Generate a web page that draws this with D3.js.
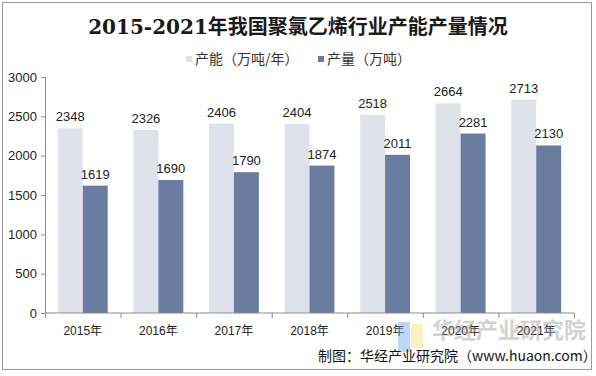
<!DOCTYPE html>
<html>
<head>
<meta charset="utf-8">
<script src="https://cdn.jsdelivr.net/npm/d3@7"></script>
<style>
	body { margin: 0; background: #fff; }
	#chart { width: 596px; height: 376px; }
</style>
</head>
<body>
<div id="chart"></div>
<script>
var years = ["2015年", "2016年", "2017年", "2018年", "2019年", "2020年", "2021年"];
var capacity = [2348, 2326, 2406, 2404, 2518, 2664, 2713];
var output = [1619, 1690, 1790, 1874, 2011, 2281, 2130];
var seriesNames = ["产能（万吨/年）", "产量（万吨）"];
var yTicks = [0, 500, 1000, 1500, 2000, 2500, 3000];

var width = 596,
	height = 376,
	margin = {top: 77, right: 22, bottom: 63, left: 45},
	colors = ["#e0e2eb", "#6a7ca0"],
	font = "'Liberation Sans', Arial, 'Noto Sans CJK SC', sans-serif";

var svg = d3.select("#chart")
	.append("svg")
	.attr("width", width)
	.attr("height", height)
	.style("font-family", font);

// frame
svg.append("rect")
	.attr("x", 2.5).attr("y", 2.5)
	.attr("width", 589).attr("height", 367)
	.attr("fill", "#fff")
	.attr("stroke", "#9a9a9a");

svg.append("text")
	.attr("x", 298).attr("y", 34)
	.attr("text-anchor", "middle")
	.style("font-family", "'DejaVu Serif', 'Liberation Serif', 'Noto Sans CJK SC', serif")
	.style("font-size", "20px")
	.style("font-weight", "bold")
	.attr("fill", "#1a1a1a")
	.text("2015-2021年我国聚氯乙烯行业产能产量情况");

// legend
var legendX = [186, 318];
seriesNames.forEach(function (name, i) {
	var g = svg.append("g").attr("transform", "translate(" + legendX[i] + ",59)");
	g.append("rect")
		.attr("x", 0).attr("y", -3)
		.attr("width", 6).attr("height", 6)
		.attr("fill", colors[i]);
	g.append("text")
		.attr("x", 9).attr("y", 5)
		.style("font-size", "14px")
		.style("font-family", "'Noto Sans CJK SC', sans-serif")
		.attr("fill", "#333")
		.text(name);
});

var x0 = d3.scaleBand()
	.domain(years)
	.range([margin.left, margin.left + 529])
	.paddingInner(0.34)
	.paddingOuter(0.17);

var x1 = d3.scaleBand()
	.domain([0, 1])
	.range([0, x0.bandwidth()]);

var y = d3.scaleLinear()
	.domain([0, 3000])
	.range([313, 77]);

// y axis
var yAxis = svg.append("g")
	.attr("transform", "translate(" + margin.left + ",0)")
	.call(d3.axisLeft(y).tickValues(yTicks).tickFormat(d3.format("d")).tickSize(4).tickPadding(4));
yAxis.selectAll("text")
	.style("font-size", "13px")
	.style("font-family", font)
	.attr("fill", "#222");
yAxis.selectAll("line, path").attr("stroke", "#8c8c8c");

var step = x0.step();
var groups = svg.append("g")
	.selectAll("g")
	.data(years)
	.join("g")
	.attr("transform", function (d) { return "translate(" + x0(d) + ",0)"; });

var series = [capacity, output];
series.forEach(function (vals, s) {
	groups.append("rect")
		.attr("x", x1(s))
		.attr("width", x1.bandwidth())
		.attr("y", function (d, i) { return y(vals[i]); })
		.attr("height", function (d, i) { return y(0) - y(vals[i]); })
		.attr("fill", colors[s]);
	groups.append("text")
		.attr("x", x1(s) + x1.bandwidth() / 2)
		.attr("y", function (d, i) { return y(vals[i]) - 7; })
		.attr("text-anchor", "middle")
		.style("font-size", "13px")
		.attr("fill", "#222")
		.text(function (d, i) { return vals[i]; });
});

// x axis
var xAxis = svg.append("g")
	.attr("transform", "translate(0," + y(0) + ")");
xAxis.append("line")
	.attr("x1", margin.left).attr("x2", margin.left + 529)
	.attr("stroke", "#8c8c8c");
xAxis.selectAll("line.tick")
	.data(d3.range(years.length + 1))
	.join("line")
	.attr("class", "tick")
	.attr("x1", function (i) { return margin.left + i * step + 0.5; })
	.attr("x2", function (i) { return margin.left + i * step + 0.5; })
	.attr("y1", 0).attr("y2", 5)
	.attr("stroke", "#8c8c8c");
xAxis.selectAll("text")
	.data(years)
	.join("text")
	.attr("x", function (d) { return x0(d) + x0.bandwidth() / 2; })
	.attr("y", 22)
	.attr("text-anchor", "middle")
	.style("font-size", "12px")
	.style("font-family", font)
	.attr("fill", "#222")
	.text(function (d) { return d; });

// watermark (logo + faint name, as in the reference)
var wm = svg.append("g").attr("opacity", 0.45);
wm.append("rect").attr("x", 398).attr("y", 322).attr("width", 12).attr("height", 30).attr("fill", "#6fa8e8");
wm.append("rect").attr("x", 411).attr("y", 324).attr("width", 12).attr("height", 24).attr("fill", "#f3e27a");
wm.append("text")
	.attr("x", 432).attr("y", 338)
	.style("font-size", "22px")
	.style("font-weight", "bold")
	.style("font-family", "'Noto Sans CJK SC', sans-serif")
	.attr("fill", "#9a9a9a")
	.text("华经产业研究院");

svg.append("text")
	.attr("x", 318).attr("y", 361)
	.style("font-size", "14px")
	.style("font-family", "'Noto Sans CJK SC', sans-serif")
	.attr("fill", "#111")
	.text("制图：华经产业研究院（www.huaon.com）");
</script>
</body>
</html>
